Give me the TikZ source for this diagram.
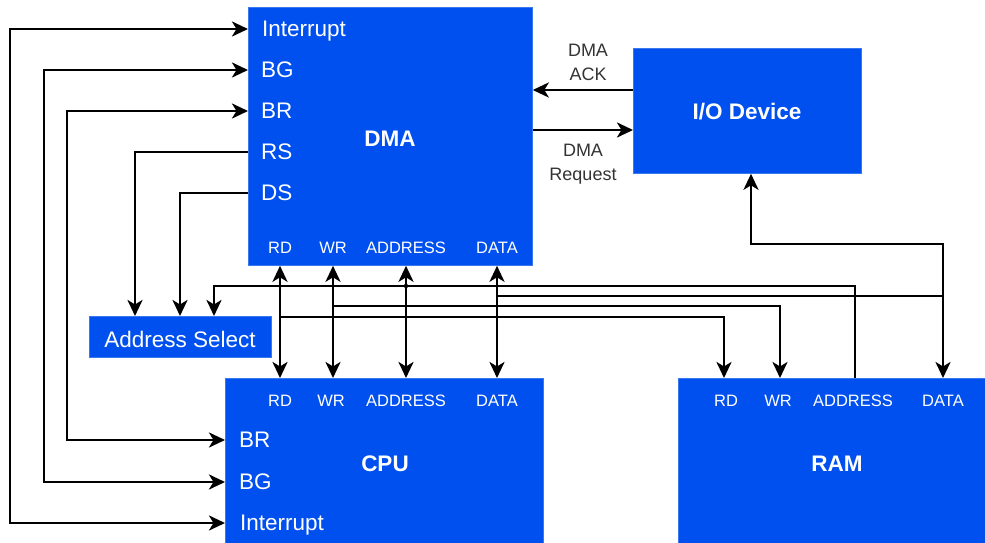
\documentclass[tikz,border=0pt]{standalone}
\usepackage{fontspec}
\setmainfont{Liberation Sans}
\usetikzlibrary{arrows.meta,calc}
\definecolor{boxblue}{HTML}{0050EF}
\definecolor{boxedge}{HTML}{3A78F2}
\definecolor{notegray}{HTML}{333333}

\begin{document}
\begin{tikzpicture}[x=1pt,y=-1pt,
  unit/.style={draw=boxedge, line width=0.8pt, fill=boxblue, inner sep=0pt, anchor=north west},
  title/.style={text=white, font=\fontsize{22.5}{26}\selectfont\bfseries, inner sep=0pt},
  pin/.style={text=white, font=\fontsize{22.5}{26}\selectfont, anchor=mid west, inner sep=0pt},
  bus/.style={text=white, font=\fontsize{16.5}{19}\selectfont, anchor=mid, inner sep=0pt},
  note/.style={text=notegray, font=\fontsize{18}{24}\selectfont, align=center, inner sep=0pt},
  wire/.style={line width=2.7pt, -{Stealth[length=16pt,width=15pt,inset=4.5pt]}},
  both/.style={line width=2.7pt, {Stealth[length=16pt,width=15pt,inset=4.5pt]}-{Stealth[length=16pt,width=15pt,inset=4.5pt]}}
]
\useasboundingbox (0,0) rectangle (985,543);

% ---------- units ----------
\node[unit, minimum width=284, minimum height=258] (dma) at (248,7) {};
\node[unit, minimum width=228, minimum height=125] (io)  at (633,48) {};
\node[unit, minimum width=182, minimum height=41]  (sel) at (89,316) {};
\node[unit, minimum width=318, minimum height=170] (cpu) at (225,378) {};
\node[unit, minimum width=312, minimum height=170] (ram) at (678,378) {};

\node[title] at (390,139) {DMA};
\node[title] at (747,112) {I/O Device};
\node[title] at (385,464) {CPU};
\node[title] at (837,464) {RAM};
\node[text=white, font=\fontsize{22.5}{26}\selectfont, inner sep=0pt] at (180,339) {Address Select};

% ---------- DMA pins ----------
\node[pin] (dmaInt) at (262,34)  {Interrupt};
\node[pin] (dmaBG)  at (261,75)  {BG};
\node[pin] (dmaBR)  at (261,116) {BR};
\node[pin] (dmaRS)  at (261,157) {RS};
\node[pin] (dmaDS)  at (261,198) {DS};
\node[bus] (dmaRD)   at (280,251) {RD};
\node[bus] (dmaWR)   at (333,251) {WR};
\node[bus] (dmaAddr) at (406,251) {ADDRESS};
\node[bus] (dmaData) at (497,251) {DATA};

% ---------- CPU pins ----------
\node[bus] (cpuRD)   at (280,404) {RD};
\node[bus] (cpuWR)   at (331,404) {WR};
\node[bus] (cpuAddr) at (406,404) {ADDRESS};
\node[bus] (cpuData) at (497,404) {DATA};
\node[pin] (cpuBR)  at (239,445) {BR};
\node[pin] (cpuBG)  at (239,487) {BG};
\node[pin] (cpuInt) at (240,528) {Interrupt};

% ---------- RAM pins ----------
\node[bus] (ramRD)   at (726,404) {RD};
\node[bus] (ramWR)   at (778,404) {WR};
\node[bus] (ramAddr) at (853,404) {ADDRESS};
\node[bus] (ramData) at (943,404) {DATA};

% ---------- handshake notes ----------
\node[note] (ackTxt) at (588,62)  {DMA\\ACK};
\node[note] (reqTxt) at (583,164) {DMA\\Request};

% ---------- rails ----------
\coordinate (railInt) at (10,0);
\coordinate (railBG)  at (44,0);
\coordinate (railBR)  at (67,0);
\coordinate (railRS)  at (135,0);
\coordinate (railDS)  at (180,0);
\coordinate (railSel) at (214,0);
\coordinate (ioRail)   at (0,244);
\coordinate (addrRail) at (0,286);
\coordinate (dataRail) at (0,296);
\coordinate (wrRail)   at (0,306);
\coordinate (rdRail)   at (0,317);
\coordinate (ackRail)  at (0,90);
\coordinate (reqRail)  at (0,130);
\coordinate (ramRDx)   at (724,0);
\coordinate (ramWRx)   at (780,0);
\coordinate (ramAddrx) at (855,0);
\coordinate (ioUp)     at (751,0);
\coordinate (pinInt) at (0,29);
\coordinate (pinBG)  at (0,70);
\coordinate (pinBR)  at (0,111);
\coordinate (pinRS)  at (0,152);
\coordinate (pinDS)  at (0,193);
\coordinate (cpuPinBR)  at (0,440);
\coordinate (cpuPinBG)  at (0,482);
\coordinate (cpuPinInt) at (0,523);

% ---------- control lines ----------
\draw[both] (dma.west |- pinInt) -| (railInt |- cpuPinInt) -- (cpu.west |- cpuPinInt);
\draw[both] (dma.west |- pinBG)  -| (railBG |- cpuPinBG)   -- (cpu.west |- cpuPinBG);
\draw[both] (dma.west |- pinBR)  -| (railBR |- cpuPinBR)   -- (cpu.west |- cpuPinBR);
\draw[wire] (dma.west |- pinRS) -| (sel.north -| railRS);
\draw[wire] (dma.west |- pinDS) -| (sel.north -| railDS);

% ---------- DMA <-> CPU buses ----------
\draw[both] (dma.south -| dmaRD)   -- (cpu.north -| dmaRD);
\draw[both] (dma.south -| dmaWR)   -- (cpu.north -| dmaWR);
\draw[both] (dma.south -| dmaAddr) -- (cpu.north -| dmaAddr);
\draw[both] (dma.south -| dmaData) -- (cpu.north -| dmaData);

% ---------- buses to RAM / address select / I/O ----------
\draw[wire] (ram.north -| ramAddrx) -- (ramAddrx |- addrRail) -| (sel.north -| railSel);
\fill (dmaAddr |- addrRail) circle (2.2);
\draw[wire] (dmaData |- dataRail) -| (ram.north -| ramData);
\draw[wire] (ramData |- dataRail) -- (ramData |- ioRail) -| (io.south -| ioUp);
\draw[wire] (dmaWR |- wrRail) -| (ram.north -| ramWRx);
\draw[wire] (dmaRD |- rdRail) -| (ram.north -| ramRDx);

% ---------- DMA <-> I/O handshake ----------
\draw[wire] (io.west |- ackRail) -- (dma.east |- ackRail);
\draw[wire] (dma.east |- reqRail) -- (io.west |- reqRail);
\end{tikzpicture}
\end{document}
